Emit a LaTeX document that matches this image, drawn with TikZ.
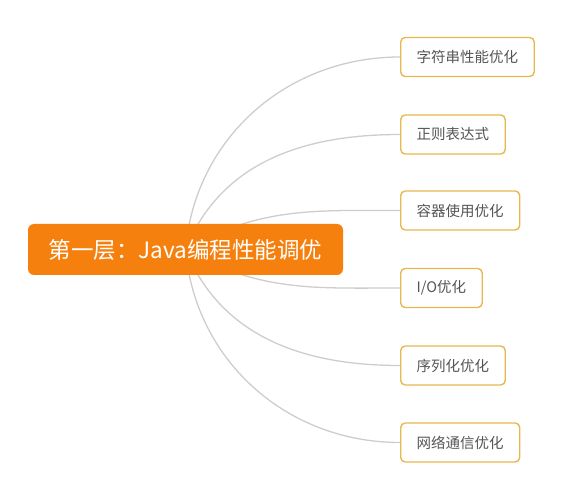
\documentclass[tikz,border=0pt]{standalone}
\usepackage{fontspec}
\setmainfont{Noto Sans CJK SC}
\definecolor{mainorange}{HTML}{F5800E}
\definecolor{boxgold}{HTML}{E8B750}
\definecolor{linegray}{HTML}{CDCDCD}
\definecolor{textgray}{HTML}{555555}
\tikzset{
  rootbox/.style={fill=mainorange, draw=none, rounded corners=6pt, minimum width=315pt, minimum height=51pt, text=white, font=\fontsize{22.5}{25}\selectfont, inner sep=0pt},
  leafbox/.style={draw=boxgold, line width=1.4pt, fill=white, rounded corners=4.5pt, minimum height=39pt, inner xsep=16pt, inner ysep=0pt, text=textgray, font=\fontsize{14.5}{16}\selectfont, anchor=west},
  branch/.style={draw=linegray, line width=1.3pt}
}
\begin{document}
\begin{tikzpicture}[x=1pt,y=-1pt]
\useasboundingbox (0,0) rectangle (582,500);
\node[leafbox] (c1) at (400,57) {字符串性能优化};
\node[leafbox] (c2) at (400,134.5) {正则表达式};
\node[leafbox] (c3) at (400,210.5) {容器使用优化};
\node[leafbox] (c4) at (400,288) {I/O优化};
\node[leafbox] (c5) at (400,365.5) {序列化优化};
\node[leafbox] (c6) at (400,442.5) {网络通信优化};
\coordinate (hub) at (185.5,249.5);
\draw[branch] (hub) to[out=85,in=180] (c1.west);
\draw[branch] (hub) to[out=68,in=180] (c2.west);
\draw[branch] (hub) to[out=30,in=180] (c3.west);
\draw[branch] (hub) to[out=-30,in=180] (c4.west);
\draw[branch] (hub) to[out=-68,in=180] (c5.west);
\draw[branch] (hub) to[out=-85,in=180] (c6.west);
\node[rootbox] (root) at (hub) {第一层：Java编程性能调优};
\end{tikzpicture}
\end{document}
